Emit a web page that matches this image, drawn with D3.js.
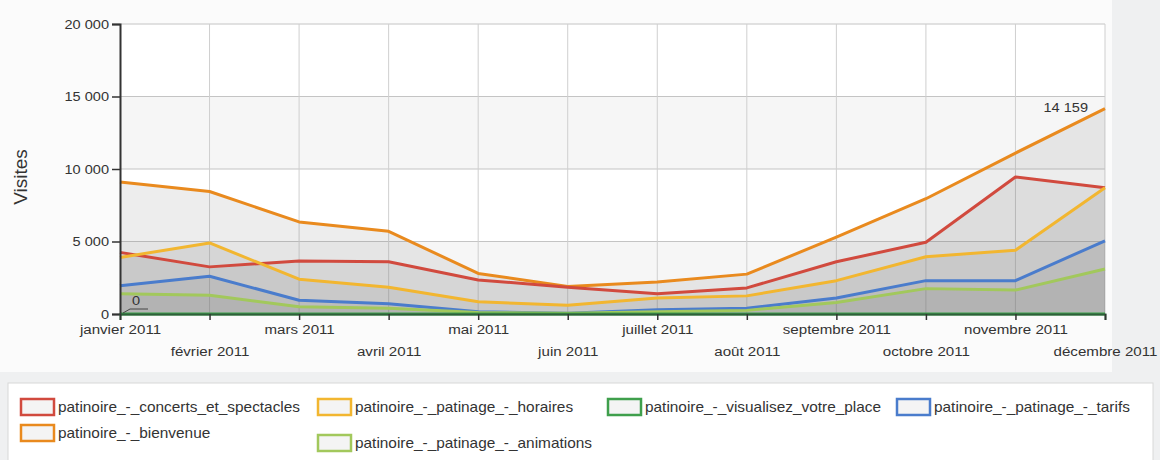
<!DOCTYPE html>
<html>
<head>
<meta charset="utf-8">
<script src="https://cdn.jsdelivr.net/npm/d3@7"></script>
<style>
  body { margin: 0; background: #eff0f1; font-family: "Liberation Sans", Arial, sans-serif; }
  #chart { width: 1160px; height: 460px; }
</style>
</head>
<body>
<div id="chart"></div>
<script>
const months = ["janvier 2011", "février 2011", "mars 2011", "avril 2011", "mai 2011", "juin 2011",
    "juillet 2011", "août 2011", "septembre 2011", "octobre 2011", "novembre 2011", "décembre 2011"];

const bienvenue = [9100, 8450, 6350, 5700, 2800, 1900, 2200, 2750, 5300, 7950, 11100, 14159];
const concerts = [4250, 3250, 3650, 3600, 2350, 1850, 1400, 1800, 3600, 4950, 9450, 8700];
const horaires = [3900, 4900, 2400, 1850, 850, 600, 1100, 1250, 2300, 3950, 4400, 8700];
const tarifs = [1950, 2600, 950, 700, 150, 50, 300, 400, 1100, 2300, 2300, 5050];
const animations = [1400, 1300, 500, 400, 100, 50, 150, 250, 800, 1750, 1650, 3100];
const visualisez = [0, 0, 0, 0, 0, 0, 0, 0, 0, 0, 0, 0];

const yTicks = [0, 5000, 10000, 15000, 20000];

// drawing order: biggest at back
const series = [
    { name: "patinoire_-_bienvenue", values: bienvenue, color: "#e98a1e" },
    { name: "patinoire_-_concerts_et_spectacles", values: concerts, color: "#d14a3e" },
    { name: "patinoire_-_patinage_-_horaires", values: horaires, color: "#f2b630" },
    { name: "patinoire_-_patinage_-_tarifs", values: tarifs, color: "#4a7ccc" },
    { name: "patinoire_-_patinage_-_animations", values: animations, color: "#a2c85c" },
    { name: "patinoire_-_visualisez_votre_place", values: visualisez, color: "#3f9f4c" }
];

// legend layout as in the picture
const legendItems = [
    { s: 1, x: 21, y: 407 }, { s: 2, x: 318, y: 407 }, { s: 5, x: 608, y: 407 }, { s: 3, x: 897, y: 407 },
    { s: 0, x: 21, y: 433 }, { s: 4, x: 318, y: 443 }
];

const fr = d3.formatLocale({ decimal: ",", thousands: "\u00a0", grouping: [3], currency: ["", " €"] });
const fmt = fr.format(",d");

const SX = 1.12; // scanned text is a bit wider than the font

const width = 1160, height = 460;
const margin = { top: 24, left: 120, right: 55, bottom: 146 };

const svg = d3.select("#chart").append("svg")
    .attr("width", width)
    .attr("height", height);

svg.append("rect").attr("x", 0).attr("y", 0).attr("width", 1112).attr("height", 372).attr("fill", "#fbfbfb");

const x = d3.scalePoint()
    .domain(d3.range(months.length))
    .range([margin.left, width - margin.right]);

const y = d3.scaleLinear()
    .domain([0, 20000])
    .range([height - margin.bottom, margin.top]);

const g = svg.append("g");

// plot background + alternate bands
g.append("rect")
    .attr("x", x(0)).attr("y", y(20000))
    .attr("width", x(11) - x(0)).attr("height", y(0) - y(20000))
    .attr("fill", "#ffffff");

g.selectAll(".band")
    .data([0, 10000])
    .enter().append("rect")
    .attr("x", x(0)).attr("y", d => y(d + 5000))
    .attr("width", x(11) - x(0)).attr("height", d => y(d) - y(d + 5000))
    .attr("fill", "#f6f6f6");

// grid
g.selectAll(".hgrid")
    .data(yTicks.slice(1))
    .enter().append("line")
    .attr("x1", x(0)).attr("x2", x(11))
    .attr("y1", d => y(d)).attr("y2", d => y(d))
    .attr("stroke", "#c4c4c4").attr("stroke-width", 1);

g.selectAll(".vgrid")
    .data(d3.range(1, months.length))
    .enter().append("line")
    .attr("x1", d => x(d)).attr("x2", d => x(d))
    .attr("y1", y(20000)).attr("y2", y(0))
    .attr("stroke", "#cfcfcf").attr("stroke-width", 1);

// areas
const area = d3.area()
    .x((d, i) => x(i))
    .y0(y(0))
    .y1(d => y(d));

g.selectAll(".area")
    .data(series)
    .enter().append("path")
    .attr("d", d => area(d.values))
    .attr("fill", "#6a6a6a")
    .attr("fill-opacity", 0.12);

// lines
const line = d3.line()
    .x((d, i) => x(i))
    .y(d => y(d));

g.selectAll(".line")
    .data(series)
    .enter().append("path")
    .attr("d", d => line(d.values))
    .attr("fill", "none")
    .attr("stroke", d => d.color)
    .attr("stroke-width", 3)
    .attr("stroke-linejoin", "round");

// axes
const yAxis = d3.axisLeft(y)
    .tickValues(yTicks)
    .tickSize(8)
    .tickFormat(d => fmt(d));

const yg = svg.append("g")
    .attr("transform", `translate(${x(0)},0)`)
    .call(yAxis);
yg.select(".domain").attr("stroke", "#333").attr("stroke-width", 2);
yg.selectAll(".tick line").attr("stroke", "#333").attr("stroke-width", 1.5);
yg.selectAll(".tick text")
    .attr("font-size", 13)
    .attr("font-family", "Liberation Sans, Arial, sans-serif")
    .attr("fill", "#333")
    .attr("x", -11 / SX)
    .attr("transform", `scale(${SX},1)`);

const xAxis = d3.axisBottom(x)
    .tickSize(6)
    .tickFormat(i => months[i]);

const xg = svg.append("g")
    .attr("transform", `translate(0,${y(0)})`)
    .call(xAxis);
xg.select(".domain").attr("stroke", "#2f5f3a").attr("stroke-width", 2);
xg.selectAll(".tick line").attr("stroke", "#333").attr("stroke-width", 1.5);
xg.selectAll(".tick text")
    .attr("font-size", 13.5)
    .attr("font-family", "Liberation Sans, Arial, sans-serif")
    .attr("fill", "#333")
    .attr("y", (d, i) => i % 2 === 0 ? 10 : 32)
    .attr("transform", `scale(${SX},1)`);

// redraw the zero line on top of axis
g.append("path")
    .attr("d", line(visualisez))
    .attr("fill", "none")
    .attr("stroke", "#3f9f4c")
    .attr("stroke-width", 1.5)
    .attr("stroke-opacity", 0.6);

// y title
svg.append("text")
    .attr("transform", `translate(27,${(y(20000) + y(0)) / 2 + 8}) rotate(-90)`)
    .attr("text-anchor", "middle")
    .attr("font-size", 19)
    .attr("fill", "#333")
    .text("Visites");

// value labels: max and min
const maxVal = d3.max(bienvenue);
svg.append("text")
    .attr("transform", `translate(${x(11) - 17},${y(maxVal) + 3}) scale(${SX},1)`)
    .attr("text-anchor", "end")
    .attr("font-size", 13)
    .attr("fill", "#333")
    .text(fmt(maxVal));

svg.append("text")
    .attr("transform", `translate(${x(0) + 16},${y(0) - 9}) scale(${SX},1)`)
    .attr("text-anchor", "middle")
    .attr("font-size", 13)
    .attr("fill", "#333")
    .text(fmt(visualisez[0]));
svg.append("path")
    .attr("d", `M${x(0) + 3},${y(0) - 1}L${x(0) + 10},${y(0) - 5}H${x(0) + 28}`)
    .attr("fill", "none")
    .attr("stroke", "#444")
    .attr("stroke-width", 1);

// legend
svg.append("rect")
    .attr("x", 8).attr("y", 383)
    .attr("width", 1145).attr("height", 90)
    .attr("fill", "#ffffff")
    .attr("stroke", "#d8d8d8");

const leg = svg.selectAll(".leg")
    .data(legendItems)
    .enter().append("g")
    .attr("transform", d => `translate(${d.x},${d.y})`);

leg.append("rect")
    .attr("x", 0).attr("y", -8)
    .attr("width", 33).attr("height", 16)
    .attr("fill", "#f4f4f4")
    .attr("stroke", d => series[d.s].color)
    .attr("stroke-width", 2.5);

leg.append("text")
    .attr("transform", `translate(37,5) scale(1.1,1)`)
    .attr("font-size", 14)
    .attr("fill", "#333")
    .text(d => series[d.s].name);
</script>
</body>
</html>
